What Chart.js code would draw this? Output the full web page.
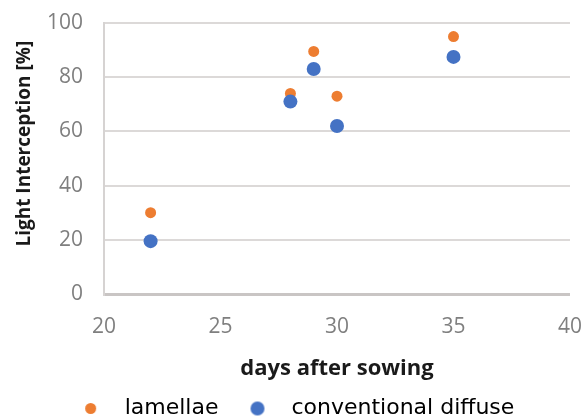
<!DOCTYPE html>
<html>
<head>
<meta charset="utf-8">
<script src="https://cdn.jsdelivr.net/npm/chart.js@4/dist/chart.umd.min.js"></script>
<style>
  html, body { margin: 0; padding: 0; background: #ffffff; }
  #wrap { width: 587px; height: 419px; }
</style>
</head>
<body>
<div id="wrap"><canvas id="chart" width="587" height="419"></canvas></div>
<script>
// Light interception measured on several days after sowing
const days = [22, 28, 29, 30, 35];
const lamellae = [30, 74, 89.5, 73, 95];
const conventionalDiffuse = [19.5, 71, 83, 62, 87.5];
const seriesNames = ['lamellae', 'conventional diffuse'];
const xTickValues = [20, 25, 30, 35, 40];
const yTickValues = [0, 20, 40, 60, 80, 100];

const ORANGE = '#ED7D31';
const BLUE = '#4472C4';

const toPoints = (xs, ys) => xs.map((x, i) => ({ x: x, y: ys[i] }));

// round marker used as a legend symbol
function dot(color, r) {
  const c = document.createElement('canvas');
  c.width = Math.ceil(2 * r + 2);
  c.height = Math.ceil(2 * r + 2);
  const g = c.getContext('2d');
  g.fillStyle = color;
  g.beginPath();
  g.arc(c.width / 2, c.height / 2, r, 0, Math.PI * 2);
  g.fill();
  return c;
}

const legendDots = [dot(ORANGE, 5.5), dot(BLUE, 7)];

new Chart(document.getElementById('chart'), {
  type: 'scatter',
  data: {
    datasets: [
      {
        label: seriesNames[0],
        data: toPoints(days, lamellae),
        backgroundColor: ORANGE,
        borderWidth: 0,
        pointRadius: 5.5,
        order: 1
      },
      {
        label: seriesNames[1],
        data: toPoints(days, conventionalDiffuse),
        backgroundColor: BLUE,
        borderWidth: 0,
        pointRadius: 7,
        order: 0
      }
    ]
  },
  options: {
    responsive: false,
    devicePixelRatio: 1,
    animation: false,
    layout: { padding: { top: 23, right: 17, bottom: 0, left: 12 } },
    plugins: {
      tooltip: { enabled: false },
      legend: {
        position: 'bottom',
        maxHeight: 37.5,
        labels: {
          usePointStyle: true,
          pointStyleWidth: 46,
          padding: 16,
          color: '#262626',
          font: { family: 'DejaVu Sans', size: 22 },
          generateLabels: () => seriesNames.map((name, i) => ({
            text: name,
            pointStyle: legendDots[i],
            fillStyle: i === 0 ? ORANGE : BLUE,
            strokeStyle: 'rgba(0,0,0,0)',
            lineWidth: 0,
            hidden: false,
            datasetIndex: i
          }))
        }
      }
    },
    scales: {
      x: {
        type: 'linear',
        min: 20,
        max: 40,
        afterBuildTicks: (scale) => { scale.ticks = xTickValues.map(v => ({ value: v })); },
        afterFit: (scale) => {
          scale.height = 87.5;
          scale.paddingLeft = 0;
          scale.paddingRight = 0;
        },
        grid: { display: false, drawTicks: false },
        border: { display: false },
        ticks: {
          padding: 20,
          color: '#7f7f7f',
          font: { family: 'Open Sans', size: 21 }
        },
        title: {
          display: true,
          text: 'days after sowing',
          color: '#1a1a1a',
          font: { family: 'Open Sans', size: 22, weight: 'bold' },
          padding: { top: 1.5, bottom: 0 }
        }
      },
      y: {
        min: 0,
        max: 100,
        afterBuildTicks: (scale) => { scale.ticks = yTickValues.map(v => ({ value: v })); },
        afterFit: (scale) => {
          scale.width = 92;
          scale.paddingTop = 0;
          scale.paddingBottom = 0;
        },
        grid: {
          drawTicks: false,
          color: (ctx) => ctx.tick && ctx.tick.value === 0 ? '#c9c5c4' : '#dcd9d8',
          lineWidth: (ctx) => ctx.tick && ctx.tick.value === 0 ? 3 : 2
        },
        border: { display: true, color: '#d6d3d2', width: 2 },
        ticks: {
          padding: 21,
          color: '#7f7f7f',
          font: { family: 'Open Sans', size: 21 }
        },
        title: {
          display: true,
          text: '      Light Interception [%]',
          color: '#1a1a1a',
          font: { family: 'Open Sans', size: 19, weight: 'bold' },
          padding: { top: 1, bottom: 0 }
        }
      }
    }
  }
});
</script>
</body>
</html>
